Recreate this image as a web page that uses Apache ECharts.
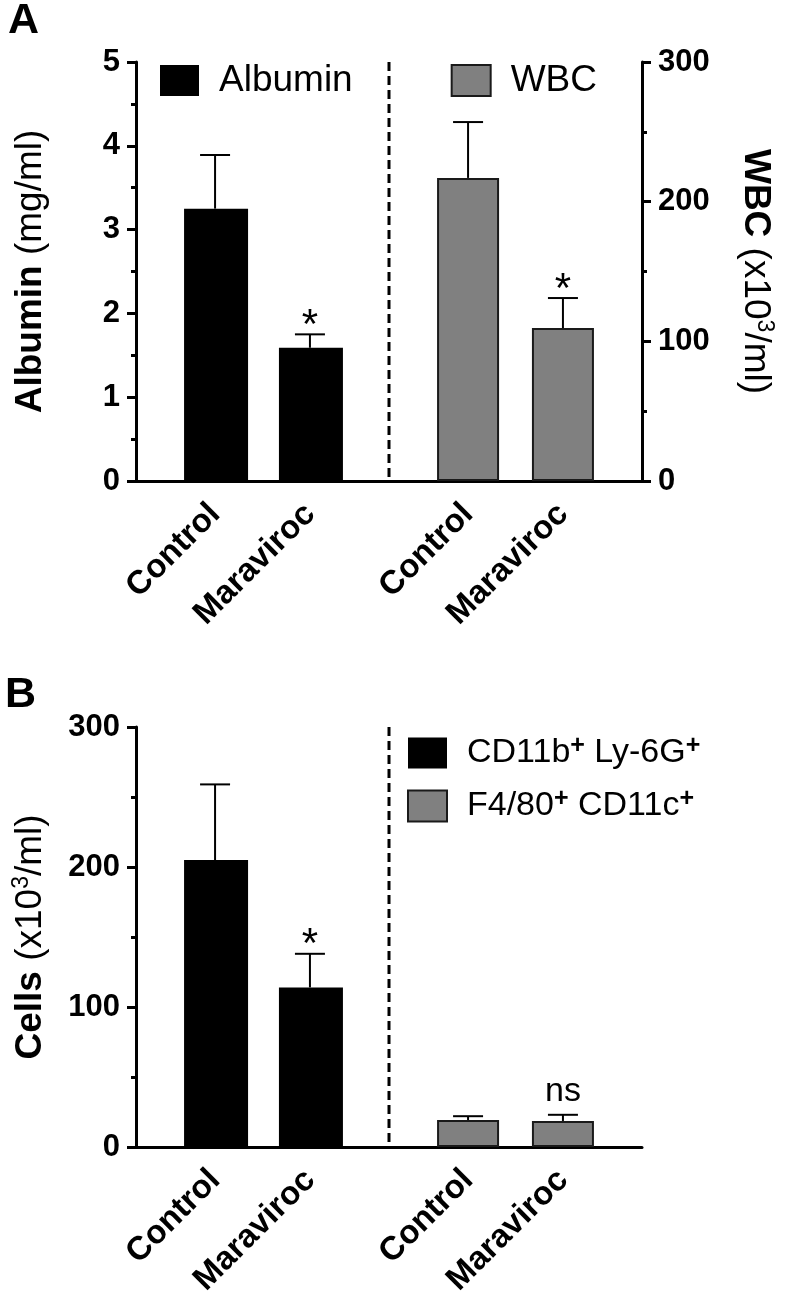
<!DOCTYPE html>
<html>
<head>
<meta charset="utf-8">
<script src="https://cdn.jsdelivr.net/npm/echarts@6/dist/echarts.min.js"></script>
<style>
  html, body { margin: 0; padding: 0; background: #fff; }
  #chart { width: 786px; height: 1296px; }
</style>
</head>
<body>
<div id="chart"></div>
<script>
// ---------------- DATA ----------------
const categories = ['Control', 'Maraviroc'];

// Panel A
const albuminMean = [3.25, 1.59];      // mg/ml
const albuminSEM  = [0.64, 0.16];
const albuminSig  = ['', '*'];
const wbcMean     = [217, 109.5];      // x10^3/ml
const wbcSEM      = [40, 21.5];
const wbcSig      = ['', '*'];

// Panel B
const cd11bMean = [205, 114];          // x10^3/ml
const cd11bSEM  = [54, 24];
const cd11bSig  = ['', '*'];
const f480Mean  = [19.3, 18.6];
const f480SEM   = [2.7, 4.4];
const f480Sig   = ['', 'ns'];

const albuminTicks = [0, 1, 2, 3, 4, 5];
const wbcTicks     = [0, 100, 200, 300];
const cellTicks    = [0, 100, 200, 300];

// ---------------- LAYOUT ----------------
const SLOT_COUNT = 16;
const LEFT_SLOTS = [2, 5];
const RIGHT_SLOTS = [10, 13];
const DIVIDER_SLOT = 7; // divider drawn at right edge of this slot

const FONT = 'Arial, "Liberation Sans", Helvetica, sans-serif';

function slotLabels() {
  const arr = new Array(SLOT_COUNT).fill('');
  LEFT_SLOTS.forEach((s, i) => arr[s] = categories[i]);
  RIGHT_SLOTS.forEach((s, i) => arr[s] = categories[i]);
  return arr;
}
function slotData(slots, values) {
  const arr = new Array(SLOT_COUNT).fill('-');
  slots.forEach((s, i) => arr[s] = values[i]);
  return arr;
}
const isLabel = (idx, val) => val !== '';

function xAxisCfg(gridIndex) {
  return {
    type: 'category', gridIndex, data: slotLabels(),
    axisLine: { lineStyle: { color: '#000', width: 3 } },
    axisTick: { alignWithLabel: true, interval: isLabel, length: 10, lineStyle: { color: '#000', width: 3 } },
    axisLabel: { interval: isLabel, rotate: 45, margin: 28, color: '#000', fontFamily: FONT, fontWeight: 'bold', fontSize: 33 },
    splitLine: { show: false }
  };
}
function yAxisCfg(gridIndex, max, interval, position, name, nameGap, nameRotate) {
  return {
    type: 'value', gridIndex, min: 0, max, interval, position,
    axisLine: { show: true, lineStyle: { color: '#000', width: 3 } },
    axisTick: { show: true, length: 9, lineStyle: { color: '#000', width: 3 } },
    minorTick: { show: true, splitNumber: 2, length: 5, lineStyle: { color: '#000', width: 3 } },
    splitLine: { show: false }, minorSplitLine: { show: false },
    axisLabel: { margin: 16, color: '#000', fontFamily: FONT, fontWeight: 'bold', fontSize: 31 },
    name, nameLocation: 'middle', nameGap, nameRotate,
    nameTextStyle: {
      color: '#000', fontFamily: FONT,
      rich: {
        b: { fontWeight: 'bold', fontSize: 37, fontFamily: FONT, color: '#000', lineHeight: 42 },
        r: { fontSize: 37, fontFamily: FONT, color: '#000', lineHeight: 42 },
        s: { fontSize: 23, fontFamily: FONT, color: '#000', verticalAlign: 'top', lineHeight: 42, padding: [0, 0, 14, 0] }
      }
    }
  };
}

const SIG_OFFSET = { '*': 8, 'ns': 23 };
const SIG_SIZE = { '*': 42, 'ns': 34 };

function errorSeries(name, xIdx, yIdx, slots, means, sems, sigs) {
  return {
    type: 'custom', name: name + ' err', xAxisIndex: xIdx, yAxisIndex: yIdx, z: 5,
    silent: true,
    data: slots.map((s, i) => [s, means[i], sems[i]]),
    renderItem(params, api) {
      const i = params.dataIndex;
      const p0 = api.coord([api.value(0), api.value(1)]);
      const p1 = api.coord([api.value(0), api.value(1) + api.value(2)]);
      const children = [
        { type: 'line', shape: { x1: p0[0], y1: p0[1], x2: p1[0], y2: p1[1] }, style: { stroke: '#000', lineWidth: 2 } },
        { type: 'line', shape: { x1: p1[0] - 15, y1: p1[1], x2: p1[0] + 15, y2: p1[1] }, style: { stroke: '#000', lineWidth: 2 } }
      ];
      const sig = sigs[i];
      if (sig) {
        children.push({
          type: 'text',
          style: {
            text: sig, x: p1[0], y: p1[1] - SIG_OFFSET[sig],
            align: 'center', verticalAlign: 'middle', textAlign: 'center', textVerticalAlign: 'middle',
            fill: '#000', fontSize: SIG_SIZE[sig], fontFamily: FONT
          }
        });
      }
      return { type: 'group', children };
    }
  };
}

function dividerSeries(xIdx, yIdx, top) {
  return {
    type: 'custom', xAxisIndex: xIdx, yAxisIndex: yIdx, silent: true, z: 4,
    data: [[DIVIDER_SLOT, top]],
    renderItem(params, api) {
      const band = api.size([1, 0])[0];
      const pTop = api.coord([api.value(0), api.value(1)]);
      const pBot = api.coord([api.value(0), 0]);
      const x = pTop[0] + band / 2;
      return {
        type: 'line',
        shape: { x1: x, y1: pTop[1], x2: x, y2: pBot[1] },
        style: { stroke: '#000', lineWidth: 3, lineDash: [9, 5] }
      };
    }
  };
}

const BLACK = { color: '#000000', borderColor: '#000000', borderWidth: 0 };
const GRAY = { color: '#808080', borderColor: '#1a1a1a', borderWidth: 2 };

const nameA = 'Albumin', nameW = 'WBC';
const nameC = 'CD11b+ Ly-6G+', nameF = 'F4/80+ CD11c+';

function legendRich(name) {
  const parts = name.split(' ');
  return parts.map((part, k) => {
    const style = k === 0 ? 'f' : 't';
    const lead = k === 0 ? '' : ' ';
    if (part.endsWith('+')) return '{' + style + '|' + lead + part.slice(0, -1) + '}{s|+}';
    return '{' + style + '|' + lead + part + '}';
  }).join('');
}

const option = {
  animation: false,
  backgroundColor: '#fff',
  title: [
    { text: 'A', left: 8, top: 0, padding: 0, textStyle: { fontFamily: FONT, fontWeight: 'bold', fontSize: 43, color: '#000' } },
    { text: 'B', left: 5, top: 674, padding: 0, textStyle: { fontFamily: FONT, fontWeight: 'bold', fontSize: 43, color: '#000' } }
  ],
  legend: [
    {
      data: [nameA, nameW], left: 160, top: 62, itemWidth: 39, itemHeight: 31, itemGap: 98,
      icon: 'rect', padding: 0, selectedMode: false,
      formatter: n => '{t|' + n + '}',
      textStyle: { rich: { t: { fontFamily: FONT, fontSize: 37, color: '#000', padding: [0, 0, 0, 15] } } }
    },
    {
      data: [nameC, nameF], orient: 'vertical', left: 407, top: 734, itemWidth: 39, itemHeight: 31, itemGap: 16,
      icon: 'rect', padding: 0, selectedMode: false,
      formatter: n => legendRich(n),
      textStyle: {
        rich: {
          f: { fontFamily: FONT, fontSize: 34, color: '#000', lineHeight: 38, padding: [0, 0, 0, 15] },
          t: { fontFamily: FONT, fontSize: 34, color: '#000', lineHeight: 38 },
          s: { fontFamily: FONT, fontSize: 25, fontWeight: 'bold', color: '#000', lineHeight: 38, verticalAlign: 'top', padding: [0, 0, 12, 0] }
        }
      }
    }
  ],
  grid: [
    { left: 136, right: 144, top: 62, bottom: 815, containLabel: false, outerBoundsMode: 'none' },
    { left: 136, right: 144, top: 727, bottom: 149, containLabel: false, outerBoundsMode: 'none' }
  ],
  xAxis: [xAxisCfg(0), xAxisCfg(1)],
  yAxis: [
    yAxisCfg(0, albuminTicks[albuminTicks.length - 1], albuminTicks[1] - albuminTicks[0], 'left',
      '{b|Albumin}{r| (mg/ml)}', 84),
    yAxisCfg(0, wbcTicks[wbcTicks.length - 1], wbcTicks[1] - wbcTicks[0], 'right',
      '{b|WBC}{r| (x10}{s|3}{r|/ml)}', 92, -90),
    yAxisCfg(1, cellTicks[cellTicks.length - 1], cellTicks[1] - cellTicks[0], 'left',
      '{b|Cells}{r| (x10}{s|3}{r|/ml)}', 84)
  ],
  series: [
    { type: 'bar', name: nameA, xAxisIndex: 0, yAxisIndex: 0, data: slotData(LEFT_SLOTS, albuminMean), barWidth: 64, barGap: '-100%', itemStyle: BLACK, z: 3 },
    { type: 'bar', name: nameW, xAxisIndex: 0, yAxisIndex: 1, data: slotData(RIGHT_SLOTS, wbcMean), barWidth: 62, barGap: '-100%', itemStyle: GRAY, z: 3 },
    errorSeries(nameA, 0, 0, LEFT_SLOTS, albuminMean, albuminSEM, albuminSig),
    errorSeries(nameW, 0, 1, RIGHT_SLOTS, wbcMean, wbcSEM, wbcSig),
    dividerSeries(0, 0, albuminTicks[albuminTicks.length - 1]),

    { type: 'bar', name: nameC, xAxisIndex: 1, yAxisIndex: 2, data: slotData(LEFT_SLOTS, cd11bMean), barWidth: 64, barGap: '-100%', itemStyle: BLACK, z: 3 },
    { type: 'bar', name: nameF, xAxisIndex: 1, yAxisIndex: 2, data: slotData(RIGHT_SLOTS, f480Mean), barWidth: 62, barGap: '-100%', itemStyle: GRAY, z: 3 },
    errorSeries(nameC, 1, 2, LEFT_SLOTS, cd11bMean, cd11bSEM, cd11bSig),
    errorSeries(nameF, 1, 2, RIGHT_SLOTS, f480Mean, f480SEM, f480Sig),
    dividerSeries(1, 2, cellTicks[cellTicks.length - 1])
  ]
};

const chart = echarts.init(document.getElementById('chart'), null, { renderer: 'canvas' });
chart.setOption(option);
</script>
</body>
</html>
